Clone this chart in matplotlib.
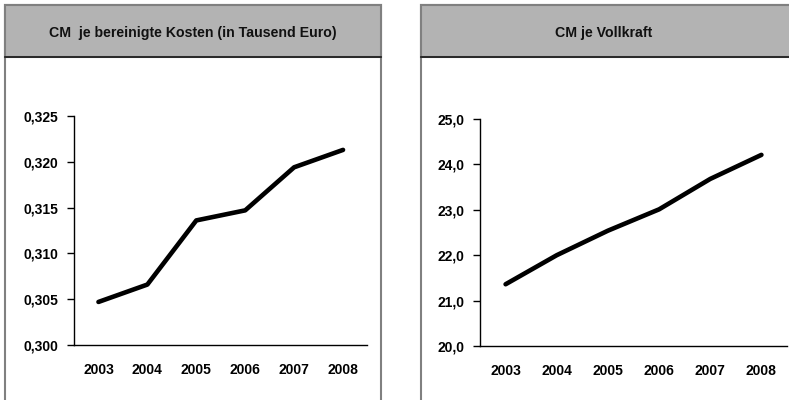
import matplotlib
matplotlib.use("Agg")
import matplotlib.pyplot as plt
from matplotlib.patches import Rectangle
from matplotlib.ticker import FuncFormatter

plt.rcParams['font.family'] = ['Liberation Sans', 'DejaVu Sans']

years = ["2003", "2004", "2005", "2006", "2007", "2008"]
cm_kosten = [0.3047, 0.3066, 0.3136, 0.3147, 0.3194, 0.3213]
cm_vollkraft = [21.36, 22.00, 22.54, 23.01, 23.68, 24.21]

title_left = "CM  je bereinigte Kosten (in Tausend Euro)"
title_right = "CM je Vollkraft"

W, H = 789, 400
fig = plt.figure(figsize=(W / 100, H / 100), dpi=100)


def px_rect(x0, y0, x1, y1, **kw):
    r = Rectangle((x0 / W, 1 - y1 / H), (x1 - x0) / W, (y1 - y0) / H,
                  transform=fig.transFigure, zorder=-5, **kw)
    fig.patches.append(r)


panels = [(5, 381, 192.5, title_left), (421, 800, 604, title_right)]
for (x0, x1, cx, title) in panels:
    px_rect(x0, 5, x1, 410, facecolor='white', edgecolor='#808080', linewidth=1.5)
    px_rect(x0, 5, x1, 57, facecolor='#b3b3b3', edgecolor='#808080', linewidth=1.5)
    fig.add_artist(plt.Line2D([x0 / W, min(x1, W) / W], [1 - 57 / H, 1 - 57 / H],
                              transform=fig.transFigure, color='#1a1a1a',
                              linewidth=1.2, zorder=-4))
    fig.text(cx / W, 1 - 33 / H, title, ha='center', va='center',
             fontsize=10.2, fontweight='bold', color='#111111')


def make_axes(rect, values, ylim, yticks, fmt):
    ax = fig.add_axes(rect)
    ax.plot(range(len(years)), values, color='black', linewidth=3.3,
            solid_capstyle='round', solid_joinstyle='round')
    ax.set_xlim(-0.5, len(years) - 0.5)
    ax.set_ylim(*ylim)
    ax.set_yticks(yticks)
    ax.yaxis.set_major_formatter(FuncFormatter(fmt))
    ax.set_xticks(range(len(years)))
    ax.set_xticklabels(years)
    for s in ['top', 'right']:
        ax.spines[s].set_visible(False)
    for s in ['left', 'bottom']:
        ax.spines[s].set_linewidth(1.0)
        ax.spines[s].set_color('black')
    ax.tick_params(axis='y', length=5, width=1.0, pad=6, labelsize=10)
    ax.tick_params(axis='x', length=0, pad=13, labelsize=10)
    for lab in ax.get_xticklabels() + ax.get_yticklabels():
        lab.set_fontweight('bold')
    ax.patch.set_alpha(0)
    return ax


make_axes([74 / W, 1 - 345 / H, 293.5 / W, 229 / H], cm_kosten, (0.300, 0.325),
          [0.300, 0.305, 0.310, 0.315, 0.320, 0.325],
          lambda v, p: f"{v:.3f}".replace('.', ','))
make_axes([480 / W, 1 - 346 / H, 307 / W, 227 / H], cm_vollkraft, (20.0, 25.0),
          [20, 21, 22, 23, 24, 25],
          lambda v, p: f"{v:.1f}".replace('.', ','))

fig.savefig("out.png", dpi=100)
